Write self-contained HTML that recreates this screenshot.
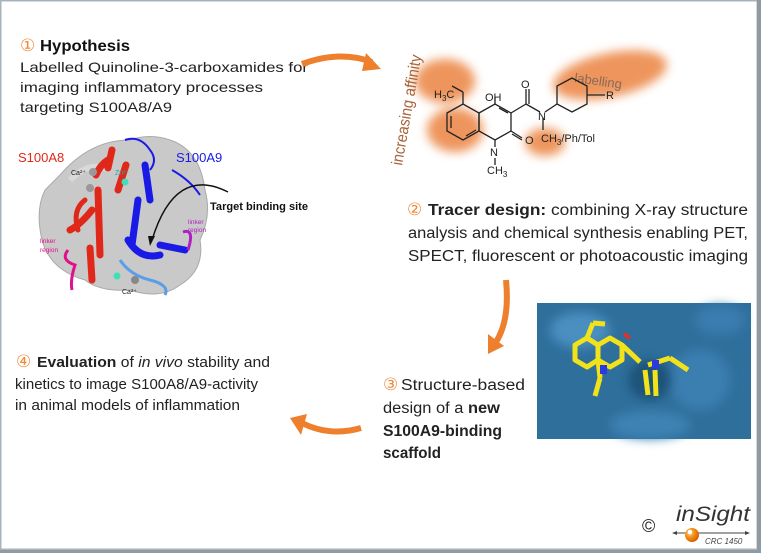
<!DOCTYPE html>
<html><head><meta charset="utf-8"><style>
html,body{margin:0;padding:0;background:#fff;}
svg{display:block;}
text{font-family:"Liberation Sans",sans-serif;}
</style></head><body>
<svg width="761" height="553" viewBox="0 0 761 553" xmlns="http://www.w3.org/2000/svg">
<defs>
<filter id="bl" x="-50%" y="-50%" width="200%" height="200%"><feGaussianBlur stdDeviation="5"/></filter>
<radialGradient id="ball" cx="35%" cy="35%" r="70%"><stop offset="0" stop-color="#ffd9a8"/><stop offset="0.4" stop-color="#f39a1e"/><stop offset="1" stop-color="#d85a00"/></radialGradient>
</defs>
<rect width="761" height="553" fill="#fff"/>
<rect x="0.5" y="0.5" width="757" height="549" fill="none" stroke="#a9b3bb" stroke-width="2"/>
<rect x="757" y="0" width="4" height="553" fill="#8f9aa3"/>
<rect x="0" y="550" width="761" height="3" fill="#8f9aa3"/>

<text x="20" y="51" font-size="17" fill="#f08a3a">①</text>
<text x="40" y="51" font-size="16" font-weight="bold" fill="#111" textLength="90" lengthAdjust="spacingAndGlyphs">Hypothesis</text>
<text x="20" y="72" font-size="14" fill="#222" textLength="288" lengthAdjust="spacingAndGlyphs">Labelled Quinoline-3-carboxamides  for</text>
<text x="20" y="92" font-size="14" fill="#222" textLength="243" lengthAdjust="spacingAndGlyphs">imaging inflammatory processes</text>
<text x="20" y="112" font-size="14" fill="#222" textLength="152" lengthAdjust="spacingAndGlyphs">targeting S100A8/A9</text>

<path d="M302,64 Q340,50 372,62" fill="none" stroke="#ee7f2d" stroke-width="6"/>
<polygon points="366,53 381,69 362,71" fill="#ee7f2d"/>

<path d="M60,175 Q90,140 130,140 Q150,133 170,140 Q200,150 205,190 Q212,215 200,240 Q205,270 180,285 Q160,300 130,290 Q100,292 85,280 Q50,270 42,240 Q35,210 45,190 Z" fill="#c9c9c9" stroke="#aaa" stroke-width="1"/>
<path d="M70,180 Q90,160 110,170" fill="none" stroke="#e0e0e0" stroke-width="6" opacity="0.7"/>
<g stroke="#e0281a" stroke-width="7" fill="none" stroke-linecap="round">
<path d="M98,190 L100,255 M92,210 Q80,225 70,230 M108,168 L112,150 M118,190 L126,165"/>
<path d="M85,200 Q72,210 78,230" stroke-width="5"/>
<path d="M96,175 Q100,165 108,160 M90,248 L92,280" />
</g>
<path d="M68,250 Q60,260 75,265 Q70,280 72,290" stroke="#e0108a" stroke-width="3" fill="none"/>
<g stroke="#1a1ae6" stroke-width="7" fill="none" stroke-linecap="round">
<path d="M138,200 L132,245 M128,240 Q140,260 160,255 M160,245 L185,250 M145,165 L150,200"/>
</g>
<path d="M125,140 Q140,135 150,150 Q158,160 150,170 M172,170 Q190,180 200,195" stroke="#1a1ae6" stroke-width="2" fill="none"/>
<path d="M120,260 Q130,275 150,280 Q170,285 165,295" stroke="#5b9ee8" stroke-width="3" fill="none"/>
<path d="M183,232 Q195,228 188,250" stroke="#b020c0" stroke-width="3" fill="none"/>
<circle cx="93" cy="172" r="4" fill="#999"/><circle cx="90" cy="188" r="4" fill="#999"/>
<circle cx="125" cy="182" r="3.5" fill="#3fe0b8"/><circle cx="117" cy="276" r="3.5" fill="#3fe0b8"/>
<circle cx="135" cy="280" r="4" fill="#888"/>
<text x="71" y="175" font-size="7" fill="#222">Ca²⁺</text>
<text x="115" y="175" font-size="7" fill="#2a9">Zn²⁺</text>
<text x="122" y="294" font-size="7" fill="#222">Ca²⁺</text>
<text x="40" y="243" font-size="6.5" fill="#e0108a">linker</text>
<text x="40" y="252" font-size="6.5" fill="#e0108a">region</text>
<text x="188" y="224" font-size="6.5" fill="#b020c0">linker</text>
<text x="188" y="232" font-size="6.5" fill="#b020c0">region</text>
<text x="18" y="162" font-size="13" fill="#e0281a">S100A8</text>
<text x="176" y="162" font-size="13" fill="#1a1ae6">S100A9</text>
<path d="M228,192 Q175,165 152,240" fill="none" stroke="#111" stroke-width="1.5"/>
<polygon points="148,236 155,236 150,246" fill="#111"/>
<text x="210" y="210" font-size="11" font-weight="bold" fill="#111" textLength="98" lengthAdjust="spacingAndGlyphs">Target binding site</text>

<g filter="url(#bl)" fill="#ec8a4c" opacity="0.9">
<ellipse cx="445" cy="81" rx="30" ry="22"/>
<ellipse cx="455" cy="130" rx="28" ry="22"/>
<ellipse cx="610" cy="75" rx="58" ry="22" transform="rotate(-12 610 75)"/>
<ellipse cx="545" cy="142" rx="20" ry="14"/>
</g>
<text x="0" y="0" font-size="16" fill="#a8643a" transform="translate(402,166) rotate(-80)" textLength="112" lengthAdjust="spacingAndGlyphs">increasing affinity</text>
<text x="574" y="82" font-size="13" fill="#8a6a55" transform="rotate(8 574 82)">labelling</text>
<g stroke="#222" stroke-width="1.3" fill="none">
<polygon points="447,113 463,104 479,113 479,131 463,140 447,131"/>
<polygon points="479,113 495,104 511,113 511,131 495,140 479,131"/>
<line x1="451" y1="116" x2="451" y2="128"/><line x1="466" y1="136" x2="476" y2="130"/>
<line x1="499" y1="108" x2="508" y2="113"/>
<line x1="463" y1="104" x2="463" y2="92"/><line x1="463" y1="92" x2="452" y2="86"/>
<line x1="495" y1="104" x2="495" y2="97"/>
<line x1="511" y1="113" x2="526" y2="104"/><line x1="526" y1="104" x2="526" y2="89"/><line x1="529" y1="104" x2="529" y2="89"/>
<line x1="526" y1="104" x2="540" y2="112"/><line x1="545" y1="112" x2="557" y2="104"/>
<line x1="543" y1="118" x2="543" y2="130"/>
<line x1="511" y1="131" x2="522" y2="138"/><line x1="512" y1="134" x2="522" y2="140"/>
<line x1="495" y1="140" x2="495" y2="147"/><line x1="495" y1="158" x2="495" y2="165"/>
<polygon points="557,104 557,86 572,78 587,86 587,104 572,112"/>
<line x1="587" y1="95" x2="605" y2="95"/>
</g>
<text x="434" y="98" font-size="11" fill="#222">H<tspan font-size="8" dy="3">3</tspan><tspan dy="-3">C</tspan></text>
<text x="485" y="101" font-size="11" fill="#222">OH</text>
<text x="521" y="88" font-size="11" fill="#222">O</text>
<text x="538" y="120" font-size="11" fill="#222">N</text>
<text x="525" y="144" font-size="11" fill="#222">O</text>
<text x="490" y="156" font-size="11" fill="#222">N</text>
<text x="487" y="174" font-size="11" fill="#222">CH<tspan font-size="8" dy="3">3</tspan></text>
<text x="541" y="142" font-size="11" fill="#222">CH<tspan font-size="8" dy="3">3</tspan><tspan dy="-3">/Ph/Tol</tspan></text>
<text x="606" y="99" font-size="11" fill="#222">R</text>

<text x="407" y="215" font-size="17" fill="#f08a3a">②</text>
<text x="428" y="215" font-size="15.5" fill="#222" textLength="320" lengthAdjust="spacingAndGlyphs"><tspan font-weight="bold">Tracer design:</tspan> combining X-ray structure</text>
<text x="408" y="238" font-size="15.5" fill="#222" textLength="340" lengthAdjust="spacingAndGlyphs">analysis and chemical synthesis enabling PET,</text>
<text x="408" y="261" font-size="15.5" fill="#222" textLength="340" lengthAdjust="spacingAndGlyphs">SPECT, fluorescent or photoacoustic imaging</text>

<path d="M506,280 Q510,320 496,342" fill="none" stroke="#ee7f2d" stroke-width="6"/>
<polygon points="488,334 504,346 488,354" fill="#ee7f2d"/>

<rect x="537" y="303" width="214" height="136" fill="#2f6f9c"/>
<g filter="url(#bl)">
<ellipse cx="580" cy="330" rx="30" ry="18" fill="#4a8fc0"/>
<ellipse cx="700" cy="380" rx="30" ry="30" fill="#3b7eb0"/>
<ellipse cx="650" cy="425" rx="40" ry="14" fill="#3e82b3"/>
<ellipse cx="650" cy="380" rx="22" ry="20" fill="#1f5378"/>
<ellipse cx="720" cy="320" rx="25" ry="15" fill="#3a7cae"/>
</g>
<g stroke="#f2e21a" stroke-width="5" fill="none" stroke-linejoin="round">
<polygon points="575,345 587,338 598,345 598,360 587,367 575,360"/>
<polygon points="598,345 610,338 622,345 622,360 610,367 598,360"/>
<line x1="587" y1="338" x2="593" y2="323"/><line x1="593" y1="323" x2="605" y2="324"/>
<line x1="622" y1="345" x2="640" y2="362"/>
<line x1="648" y1="365" x2="670" y2="358"/><line x1="670" y1="358" x2="688" y2="370"/>
<line x1="645" y1="370" x2="648" y2="395"/><line x1="655" y1="370" x2="656" y2="396"/>
<line x1="598" y1="360" x2="600" y2="378"/><line x1="600" y1="378" x2="595" y2="396"/>
</g>
<line x1="624" y1="334" x2="630" y2="338" stroke="#e0302a" stroke-width="4"/>
<rect x="600" y="365" width="7" height="9" fill="#2a3ae0"/>
<rect x="652" y="360" width="7" height="9" fill="#2a3ae0"/>

<text x="383" y="390" font-size="17" fill="#f08a3a">③</text>
<text x="401" y="390" font-size="15.5" fill="#222" textLength="124" lengthAdjust="spacingAndGlyphs">Structure-based</text>
<text x="383" y="413" font-size="15.5" fill="#222" textLength="117" lengthAdjust="spacingAndGlyphs">design of a <tspan font-weight="bold">new</tspan></text>
<text x="383" y="436" font-size="15.5" font-weight="bold" fill="#222" textLength="119" lengthAdjust="spacingAndGlyphs">S100A9-binding</text>
<text x="383" y="458" font-size="15.5" font-weight="bold" fill="#222" textLength="58" lengthAdjust="spacingAndGlyphs">scaffold</text>

<path d="M361,428 Q330,437 302,423" fill="none" stroke="#ee7f2d" stroke-width="6"/>
<polygon points="290,418 307,414 301,435" fill="#ee7f2d"/>

<text x="16" y="367" font-size="17" fill="#f08a3a">④</text>
<text x="37" y="367" font-size="14.5" fill="#222" textLength="233" lengthAdjust="spacingAndGlyphs"><tspan font-weight="bold">Evaluation</tspan> of <tspan font-style="italic">in vivo</tspan> stability and</text>
<text x="15" y="389" font-size="14.5" fill="#222" textLength="243" lengthAdjust="spacingAndGlyphs">kinetics to image S100A8/A9-activity</text>
<text x="15" y="410" font-size="14.5" fill="#222" textLength="225" lengthAdjust="spacingAndGlyphs">in animal models of inflammation</text>

<text x="642" y="532" font-size="18" fill="#222">©</text>
<text x="676" y="521" font-size="21" font-style="italic" fill="#333" textLength="74" lengthAdjust="spacingAndGlyphs">inSight</text>
<line x1="674" y1="533" x2="748" y2="533" stroke="#444" stroke-width="1"/>
<polygon points="672,533 677,531 677,535" fill="#444"/>
<polygon points="750,533 745,531 745,535" fill="#444"/>
<circle cx="692" cy="535" r="7" fill="url(#ball)"/>
<circle cx="690" cy="532" r="2.3" fill="#fff"/>
<text x="705" y="544" font-size="8" font-style="italic" fill="#444">CRC 1450</text>
</svg>
</body></html>
